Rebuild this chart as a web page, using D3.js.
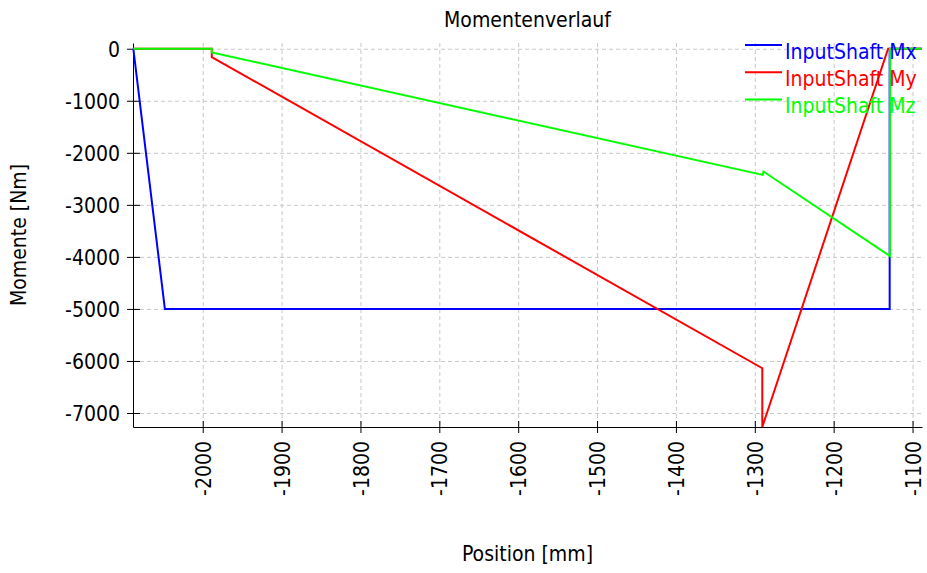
<!DOCTYPE html>
<html>
<head>
<meta charset="utf-8">
<script src="https://cdn.jsdelivr.net/npm/d3@7"></script>
<style>
  body { margin: 0; background: #fff; }
  text { font-family: "DejaVu Sans Condensed", "DejaVu Sans", sans-serif; }
</style>
</head>
<body>
<div id="chart"></div>
<script>
// values
const xTicks = [-2000, -1900, -1800, -1700, -1600, -1500, -1400, -1300, -1200, -1100]
const yTicks = [0, -1000, -2000, -3000, -4000, -5000, -6000, -7000]

const mxPos = [-2088, -2048, -1129, -1129, -1088]
const mxVal = [0, -5000, -5000, 0, 0]

const myPos = [-2088, -1988.5, -1988.5, -1290.5, -1290.5, -1131, -1088]
const myVal = [0, 0, -160, -6140, -7270, 0, 0]

const mzPos = [-2088, -1988.5, -1988.5, -1290, -1289, -1128.5, -1128.5, -1088]
const mzVal = [0, 0, -70, -2425, -2360, -3985, 0, 0]

const seriesNames = ['InputShaft Mx', 'InputShaft My', 'InputShaft Mz']
const seriesColors = ['#0000ff', '#ff0000', '#00ff00']

const width = 927, height = 573
const margin = { left: 133, right: 5, top: 43, bottom: 146 }

const svg = d3.select('#chart').append('svg')
  .attr('width', width)
  .attr('height', height)

const x = d3.scaleLinear()
  .domain([-2088.4, -1088])
  .range([margin.left, width - margin.right])

const y = d3.scaleLinear()
  .domain([-7269, 110])
  .range([height - margin.bottom, margin.top])

const x0 = margin.left, x1 = width - margin.right
const y0 = height - margin.bottom, y1 = margin.top

// grid
svg.append('g').selectAll('line').data(xTicks).enter().append('line')
  .attr('x1', d => x(d) + 0.5).attr('x2', d => x(d) + 0.5)
  .attr('y1', y1).attr('y2', y0)
  .attr('stroke', '#c8c8c8').attr('stroke-dasharray', '4,3')
svg.append('g').selectAll('line').data(yTicks).enter().append('line')
  .attr('x1', x0).attr('x2', x1)
  .attr('y1', d => y(d) + 0.5).attr('y2', d => y(d) + 0.5)
  .attr('stroke', '#c8c8c8').attr('stroke-dasharray', '4,3')

// axes
const xAxis = d3.axisBottom(x).tickValues(xTicks).tickFormat(d => String(d)).tickSizeInner(6).tickSizeOuter(0)
const gx = svg.append('g').attr('transform', `translate(0,${y0})`).call(xAxis)
gx.select('.domain').attr('stroke', '#000')
gx.selectAll('.tick line').attr('y1', -6).attr('y2', 6).attr('stroke', '#000')
gx.selectAll('.tick text')
  .attr('font-size', 21).attr('fill', '#000')
  .attr('font-family', '"DejaVu Sans Condensed", "DejaVu Sans", sans-serif')
  .attr('transform', 'rotate(-90)')
  .attr('text-anchor', 'end')
  .attr('x', -14).attr('y', 0).attr('dy', '0.36em')

const yAxis = d3.axisLeft(y).tickValues(yTicks).tickFormat(d => String(d)).tickSizeInner(6).tickSizeOuter(0)
const gy = svg.append('g').attr('transform', `translate(${x0},0)`).call(yAxis)
gy.select('.domain').attr('stroke', '#000')
gy.selectAll('.tick line').attr('x1', -6).attr('x2', 7).attr('stroke', '#000')
gy.selectAll('.tick text')
  .attr('font-size', 21).attr('fill', '#000')
  .attr('font-family', '"DejaVu Sans Condensed", "DejaVu Sans", sans-serif')
  .attr('x', -13).attr('dy', '0.36em')

// lines
const line = d3.line().x(d => x(d[0])).y(d => y(d[1]))
const series = [
  d3.zip(mxPos, mxVal),
  d3.zip(myPos, myVal),
  d3.zip(mzPos, mzVal)
]
series.forEach((s, i) => {
  svg.append('path').datum(s)
    .attr('d', line)
    .attr('fill', 'none')
    .attr('stroke', seriesColors[i])
    .attr('stroke-width', 2)
})

// legend
const legend = svg.append('g')
seriesNames.forEach((name, i) => {
  const ly = 45 + i * 27.3
  legend.append('line')
    .attr('x1', 745).attr('x2', 782)
    .attr('y1', ly).attr('y2', ly)
    .attr('stroke', seriesColors[i]).attr('stroke-width', 2)
  legend.append('text')
    .attr('x', 785).attr('y', ly + 13.5)
    .attr('font-size', 21)
    .attr('fill', seriesColors[i])
    .text(name)
})

// titles
svg.append('text')
  .attr('x', (x0 + x1) / 2).attr('y', 26.5)
  .attr('text-anchor', 'middle').attr('font-size', 21)
  .text('Momentenverlauf')
svg.append('text')
  .attr('x', (x0 + x1) / 2).attr('y', 561)
  .attr('text-anchor', 'middle').attr('font-size', 21)
  .text('Position [mm]')
svg.append('text')
  .attr('transform', 'translate(26,235) rotate(-90)')
  .attr('text-anchor', 'middle').attr('font-size', 21)
  .text('Momente [Nm]')
</script>
</body>
</html>
